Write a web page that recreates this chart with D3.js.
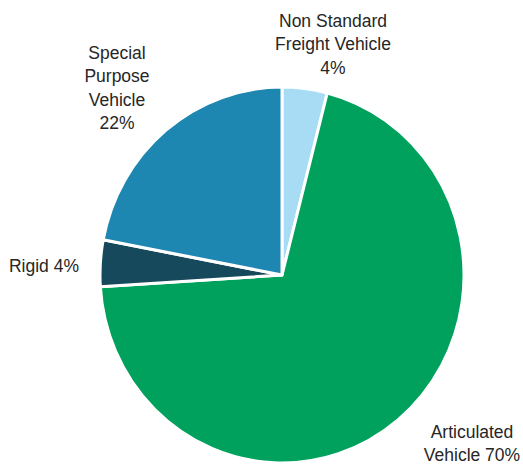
<!DOCTYPE html>
<html>
<head>
<meta charset="utf-8">
<script src="https://cdn.jsdelivr.net/npm/d3@7"></script>
<style>
  body { margin: 0; background: #fff; }
  svg text { font-family: "Liberation Sans", Arial, sans-serif; fill: #262626; }
</style>
</head>
<body>
<svg id="chart" width="523" height="464"></svg>
<script>
// slice data, clockwise from 12 o'clock
const categories = ["Non Standard Freight Vehicle", "Articulated Vehicle", "Rigid", "Special Purpose Vehicle"];
const shares = [4, 70, 4, 22];
const colors = ["#a8dcf4", "#00a15c", "#17495d", "#1d86b1"];

// label lines as they appear on the chart
const labelLines = [
  ["Non Standard", "Freight Vehicle", "4%"],
  ["Articulated", "Vehicle 70%"],
  ["Rigid 4%"],
  ["Special", "Purpose", "Vehicle", "22%"]
];

const svg = d3.select("#chart");
const cx = 282, cy = 275, r = 182, yStretch = 188 / 182;

const pie = d3.pie().sort(null).value(d => d);
const arc = d3.arc().innerRadius(0).outerRadius(r);

const g = svg.append("g")
  .attr("transform", `translate(${cx},${cy}) scale(1,${yStretch})`);

g.selectAll("path")
  .data(pie(shares))
  .join("path")
  .attr("d", arc)
  .attr("fill", (d, i) => colors[i])
  .attr("stroke", "#fff")
  .attr("stroke-width", 3)
  .attr("stroke-linejoin", "round");

// label placement (anchor x, first baseline, anchor)
const labelPos = [
  { x: 333, y: 27, anchor: "middle" },
  { x: 472, y: 438, anchor: "middle" },
  { x: 79, y: 272, anchor: "end" },
  { x: 117, y: 59, anchor: "middle" }
];
const lineH = 23.3;

labelLines.forEach((lines, i) => {
  const p = labelPos[i];
  const t = svg.append("text")
    .attr("text-anchor", p.anchor)
    .attr("font-size", "17.5px");
  lines.forEach((s, j) => {
    t.append("tspan").attr("x", p.x).attr("y", p.y + j * lineH).text(s);
  });
});
</script>
</body>
</html>
